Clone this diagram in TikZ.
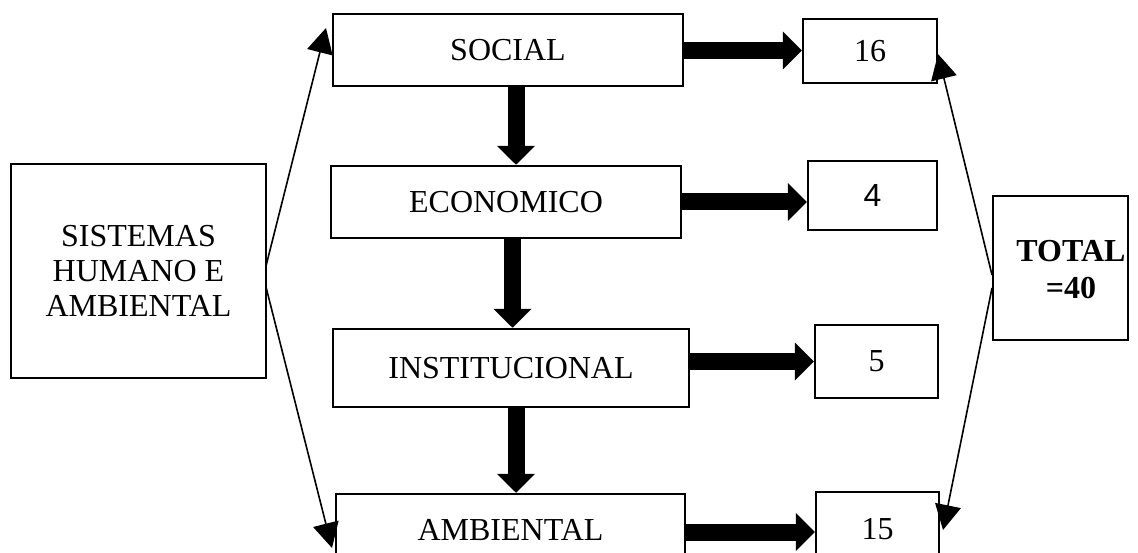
\documentclass[tikz,border=0pt]{standalone}
\usepackage{fontspec}
\setmainfont{Liberation Serif}
\newfontfamily\digitsans{Liberation Sans}
\usetikzlibrary{arrows.meta}
\begin{document}
\begin{tikzpicture}[x=1pt,y=-1pt,
  box/.style={draw, line width=2.4pt, rectangle, inner sep=0pt, align=center,
    font=\fontsize{32}{35}\selectfont},
  bigarrow/.style={line width=17pt, -{Triangle[length=19pt,width=37pt]}},
  thinarrow/.style={line width=1.6pt, -{Triangle[length=25pt,width=26pt]}}]
\clip (0,0) rectangle (1138,553);
\fill[white] (0,0) rectangle (1138,553);

% source box
\node[box, minimum width=255pt, minimum height=214pt] (src) at (138.5,271)
  {SISTEMAS\\HUMANO E\\AMBIENTAL};

% the four dimensions
\node[box, minimum width=350pt, minimum height=72pt] (social) at (508,50) {SOCIAL};
\node[box, minimum width=350pt, minimum height=72pt] (econ) at (506,202) {ECONOMICO};
\node[box, minimum width=356pt, minimum height=78pt] (inst) at (511,368) {INSTITUCIONAL};
\node[box, minimum width=349pt, minimum height=72pt] (amb) at (510.5,530) {AMBIENTAL};

% counts per dimension
\node[box, minimum width=134pt, minimum height=64pt] (n16) at (870,51) {16};
\node[box, minimum width=129pt, minimum height=69pt] (n4) at (872.5,195.5) {\digitsans 4};
\node[box, minimum width=123pt, minimum height=73pt] (n5) at (876.5,361.5) {5};
\node[box, minimum width=123pt, minimum height=74pt] (n15) at (877.5,529) {15};

% total
\node[box, minimum width=135pt, minimum height=144pt] (total) at (1060.5,268) {};
\node[font=\fontsize{32}{37}\selectfont\bfseries, align=center] (totaltxt) at (1071,270) {TOTAL\\=40};

% vertical flow between dimensions
\draw[bigarrow] ([xshift=8pt]social.south) -- ([xshift=8pt]social.south |- econ.north);
\draw[bigarrow] ([xshift=6.5pt]econ.south) -- ([xshift=6.5pt]econ.south |- inst.north);
\draw[bigarrow] ([xshift=5pt]inst.south) -- ([xshift=5pt]inst.south |- amb.north);

% dimension to count
\draw[bigarrow] ([yshift=-0.5pt]social.east) -- ([yshift=-0.5pt]social.east -| n16.west);
\draw[bigarrow] (econ.east) -- (econ.east -| n4.west);
\draw[bigarrow] (n5.west -| inst.east) -- (n5.west);
\draw[bigarrow] ([yshift=-2pt]amb.east) -- ([yshift=-2pt]amb.east -| n15.west);

% fan-out from the source box
\coordinate (srcup) at (266,266);
\coordinate (srcdown) at (266,287);
\coordinate (tipsocial) at (326,28);
\coordinate (tipamb) at (332,548);
\draw[thinarrow] (srcup) -- (tipsocial);
\draw[thinarrow] (srcdown) -- (tipamb);

% fan-in towards the total
\coordinate (totup) at (992,275);
\coordinate (totdown) at (992,288);
\coordinate (tip16) at (938,54);
\coordinate (tip15) at (943,530);
\draw[thinarrow] (totup) -- (tip16);
\draw[thinarrow] (totdown) -- (tip15);
\end{tikzpicture}
\end{document}
